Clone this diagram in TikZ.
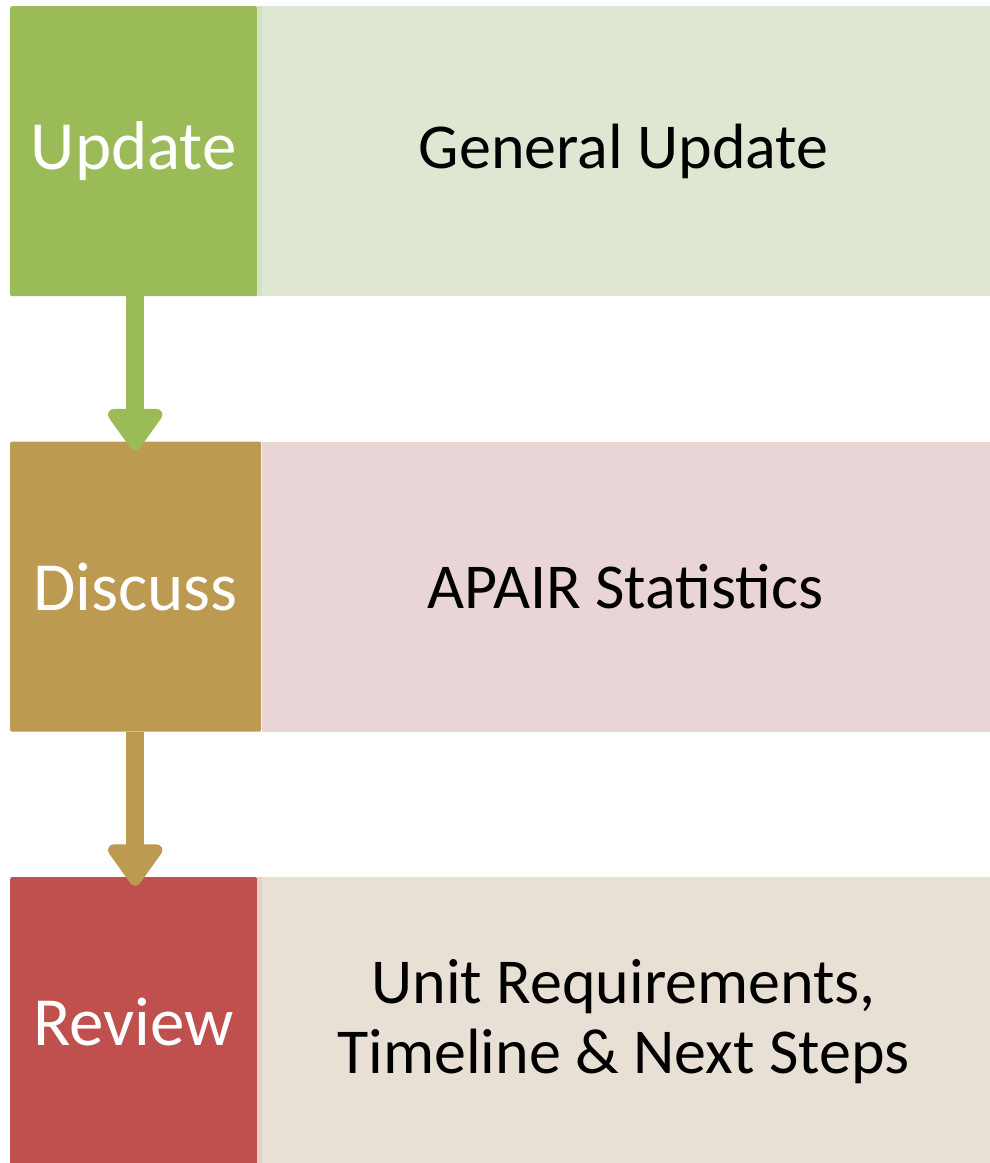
\documentclass[tikz,border=0pt]{standalone}
\usepackage{fontspec}
\setmainfont{Carlito}
\usetikzlibrary{positioning,arrows.meta}

\definecolor{updgreen}{HTML}{9BBB59}
\definecolor{updlight}{HTML}{DFE7D2}
\definecolor{updstrip}{HTML}{D4E1C2}
\definecolor{disbrown}{HTML}{BD9A52}
\definecolor{dispink}{HTML}{EAD5D6}
\definecolor{revred}{HTML}{C0504D}
\definecolor{revbeige}{HTML}{E8E0D5}
\definecolor{revstrip}{HTML}{E3D2C6}

\begin{document}
\begin{tikzpicture}[x=1pt, y=-1pt,
    every node/.style={inner sep=0pt, font=\fontsize{64}{70}\selectfont},
    stage/.style={fill=#1, text=white, rounded corners=2pt, minimum height=290pt, minimum width=247pt, font=\fontsize{69}{70}\selectfont},
    topic/.style={fill=#1, text=black, minimum height=290pt, align=center},
    flow/.style={draw=#1, line width=18pt, -{Triangle[width=62pt, length=46pt, round]}, shorten >=-9pt}]
    \useasboundingbox (0,0) rectangle (989,1163);

    % stages on the left
    \node[stage=updgreen, anchor=north west] (upd) at (10,6) {Update};
    \node[stage=disbrown, minimum width=251pt, below=145pt of upd.south west, anchor=north west] (dis) {Discuss};
    \node[stage=revred, below=145pt of dis.south west, anchor=north west] (rev) {Review};

    % topics on the right
    \node[topic=updlight, minimum width=732pt, right=0pt of upd.north east, anchor=north west] (gen) {General Update};
    \node[topic=dispink, minimum width=728pt, right=0pt of dis.north east, anchor=north west] (apa) {APAIR Statistics};
    \node[topic=revbeige, minimum width=732pt, right=0pt of rev.north east, anchor=north west] (unit) {Unit Requirements,\\Timeline \& Next Steps};
    \fill[updstrip] (gen.north west) rectangle ([xshift=5pt]gen.south west);
    \fill[revstrip] (unit.north west) rectangle ([xshift=5pt]unit.south west);

    % arrows
    \draw[flow=updgreen] ([xshift=1.5pt]upd.south) -- ([xshift=1.5pt]upd.south |- dis.north);
    \draw[flow=disbrown] ([xshift=-0.5pt]dis.south) -- ([xshift=-0.5pt]dis.south |- rev.north);
\end{tikzpicture}
\end{document}
